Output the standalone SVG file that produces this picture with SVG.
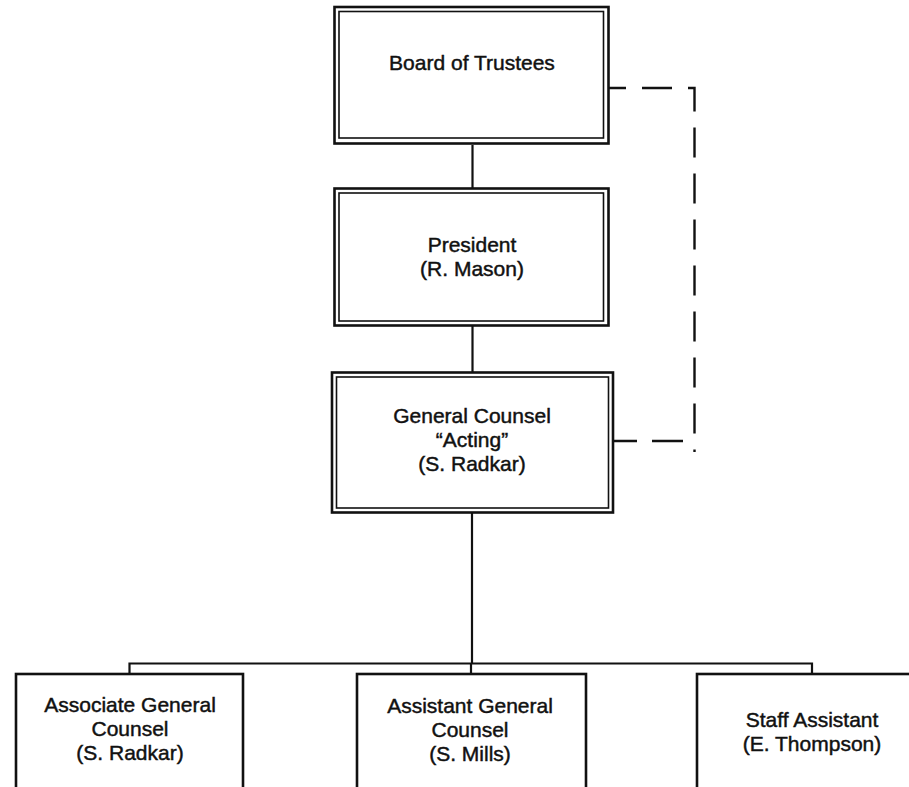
<svg xmlns="http://www.w3.org/2000/svg" width="909" height="787" viewBox="0 0 909 787">
<style>
.outer{fill:#fff;stroke:#111;stroke-width:2.6}
.inner{fill:none;stroke:#111;stroke-width:1.6}
.box{fill:#fff;stroke:#111;stroke-width:2.6}
.ln{fill:none;stroke:#111;stroke-width:2.2}
.dash{fill:none;stroke:#111;stroke-width:2.4}
text{font-family:"Liberation Sans",Arial,sans-serif;font-size:21px;fill:#111;stroke:#111;stroke-width:0.45;text-anchor:middle}
</style>
<g id="connectors">
<path class="ln" d="M472.5 145V188"/>
<path class="ln" d="M472.5 326V372"/>
<path class="ln" d="M472 513V664"/>
<path class="ln" d="M129.5 674V663.5H812V674"/>
<path class="ln" d="M471 663.5V674"/>
<path class="dash" d="M609 88H694.5V452" stroke-dasharray="30 16" stroke-dashoffset="13"/>
<path class="dash" d="M614 441H694.5" stroke-dasharray="23 15 31 15"/>
</g>
<g id="board">
<rect class="outer" x="334.5" y="7" width="274" height="136.5"/>
<rect class="inner" x="339" y="11.5" width="264.5" height="126.5"/>
<text x="472" y="70">Board of Trustees</text>
</g>
<g id="president">
<rect class="outer" x="334.5" y="188.5" width="274" height="137"/>
<rect class="inner" x="339" y="193" width="264.5" height="128"/>
<text x="472" y="252">President</text>
<text x="472" y="276">(R. Mason)</text>
</g>
<g id="general-counsel">
<rect class="outer" x="332" y="372.5" width="281" height="140"/>
<rect class="inner" x="336.5" y="377" width="272" height="131"/>
<text x="472" y="423">General Counsel</text>
<text x="472" y="447">“Acting”</text>
<text x="472" y="471">(S. Radkar)</text>
</g>
<g id="associate">
<rect class="box" x="16" y="674" width="227" height="130"/>
<text x="130" y="712">Associate General</text>
<text x="130" y="736">Counsel</text>
<text x="130" y="760">(S. Radkar)</text>
</g>
<g id="assistant">
<rect class="box" x="357" y="674" width="229" height="130"/>
<text x="470" y="713">Assistant General</text>
<text x="470" y="737">Counsel</text>
<text x="470" y="761">(S. Mills)</text>
</g>
<g id="staff">
<rect class="box" x="697" y="674" width="230" height="130"/>
<text x="812" y="727">Staff Assistant</text>
<text x="812" y="751">(E. Thompson)</text>
</g>
</svg>
